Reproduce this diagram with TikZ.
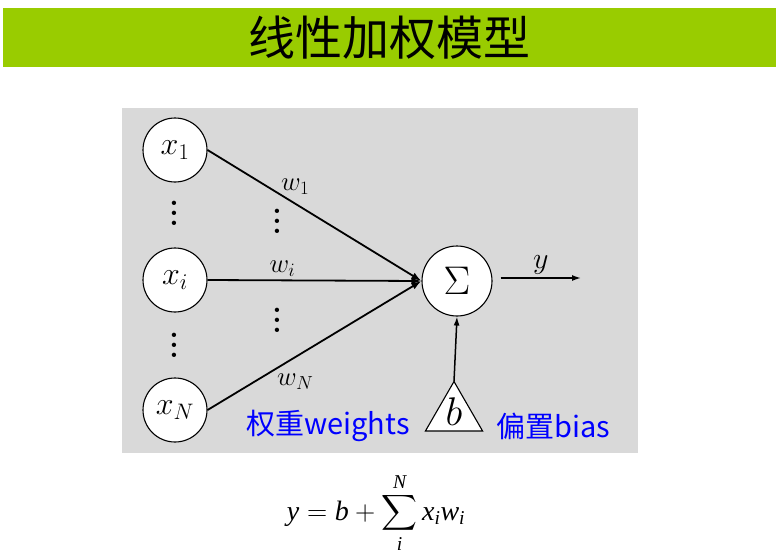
\RequirePackage{fix-cm}
\documentclass[tikz,border=0pt]{standalone}
\usepackage{amsmath}
\usepackage{fontspec}
\usetikzlibrary{arrows.meta,shapes.geometric}
\newfontfamily\cjk{Noto Sans CJK SC}
\newfontfamily\tnr{Liberation Serif}
\definecolor{titlegreen}{HTML}{99CC00}
\definecolor{panelgray}{HTML}{D9D9D9}
\definecolor{labelblue}{HTML}{0000FF}
\newcommand{\ti}[1]{\text{\tnr\itshape #1}}
\newcommand{\myvdots}{\vbox{\baselineskip=10pt\lineskiplimit=0pt\hbox{.}\hbox{.}\hbox{.}}}
\newcommand{\centerglyph}[1]{\makebox[0pt]{\raisebox{-0.27em}[0pt][0pt]{#1}}}
\tikzset{
  neuron/.style={circle,draw,line width=1.1pt,fill=white,minimum size=64pt,inner sep=0pt,font=\fontsize{32}{36}\selectfont},
  sumnode/.style={circle,draw,line width=1.1pt,fill=white,minimum size=70pt,inner sep=0pt,font=\fontsize{40}{44}\selectfont},
  biasnode/.style={regular polygon,regular polygon sides=3,draw,line width=1.1pt,fill=white,minimum size=66pt,inner sep=0pt,outer sep=0pt,font=\fontsize{40}{44}\selectfont},
  conn/.style={line width=1.8pt,-{Latex[length=10pt,width=7pt]}},
  outconn/.style={line width=1.5pt,-{Latex[length=9pt,width=6pt]}},
  wlabel/.style={font=\fontsize{27}{30}\selectfont,inner sep=0pt},
  dots/.style={font=\fontsize{30}{30}\selectfont\bfseries,inner sep=0pt},
  bluelabel/.style={font=\cjk\fontsize{29}{33}\selectfont,text=labelblue,inner sep=0pt}
}
\begin{document}
\begin{tikzpicture}[x=1pt,y=-1pt]
\useasboundingbox (0,0) rectangle (784,557);
\fill[titlegreen] (3,8) rectangle (776,67);
\node[font=\cjk\fontsize{47}{52}\selectfont,inner sep=0pt] (title) at (389,38) {线性加权模型};
\fill[panelgray] (122,108) rectangle (638,453);

\node[neuron] (x1) at (175,150) {$x_1$};
\node[neuron] (xi) at (175,280) {$x_i$};
\node[neuron] (xN) at (175,410) {$x_N$};
\node[sumnode] (s) at (457,281) {$\Sigma$};
\node[biasnode] (b) at (454,414.5) {\centerglyph{$b$}};

\node[dots] (d1) at (174,213) {\myvdots};
\node[dots] (d2) at (174,345) {\myvdots};
\node[dots] (d3) at (277,221) {\myvdots};
\node[dots] (d4) at (277,320) {\myvdots};

\draw[conn] (x1.east) -- node[wlabel,pos=0.41,yshift=17pt] (w1) {$w_1$} (s.west);
\draw[conn] (xi.east) -- node[wlabel,pos=0.35,yshift=12pt] (wi) {$w_i$} (s.west);
\draw[conn] (xN.east) -- node[wlabel,pos=0.41,yshift=-25pt] (wN) {$w_N$} (s.west);

\draw[outconn] (b.north) -- (s.south);
\coordinate (yend) at (581,278);
\draw[outconn] ([xshift=8pt,yshift=3pt]s.east) -- node[wlabel,anchor=south,yshift=3pt,font=\fontsize{30}{34}\selectfont] (ylab) {$y$} (yend);

\node[bluelabel] (wt) at (328,426) {权重weights};
\node[bluelabel] (bs) at (553,426) {偏置bias};

\node[font=\fontsize{28}{32}\selectfont,inner sep=0pt] (eq) at (376,513)
  {$\displaystyle \ti{y} = \ti{b} + \sum_{\ti{i}}^{\ti{N}} \ti{x}_{\ti{i}}\ti{w}_{\ti{i}}$};
\end{tikzpicture}
\end{document}
